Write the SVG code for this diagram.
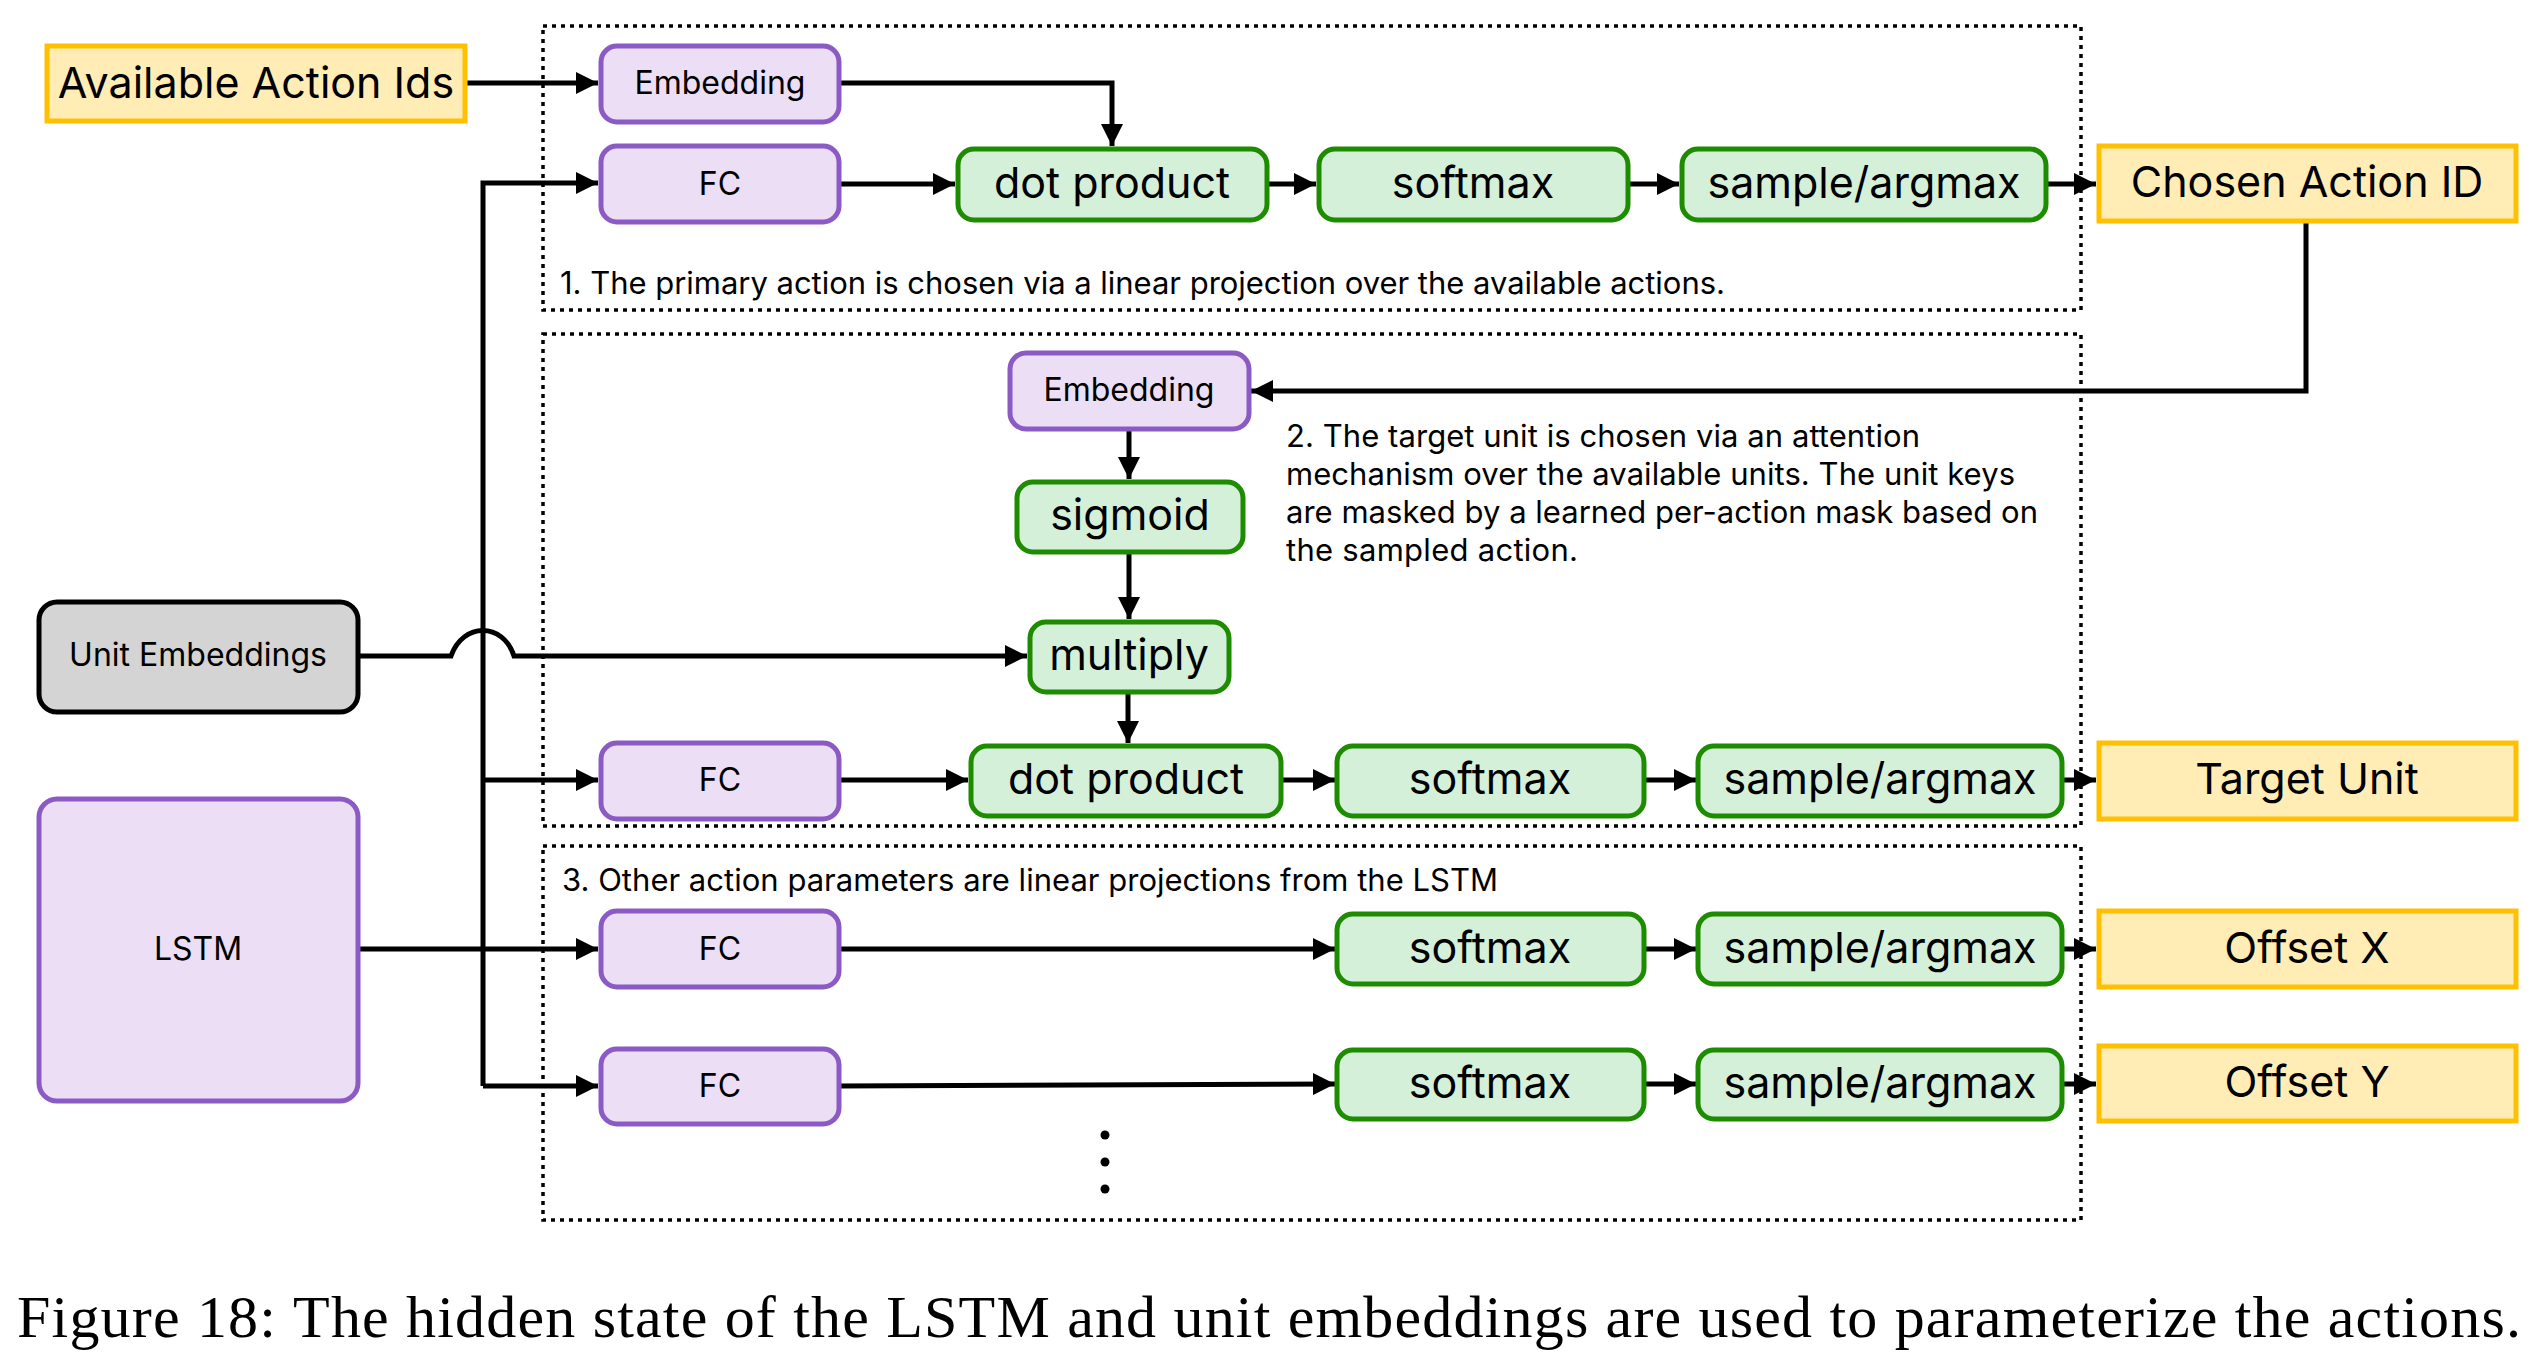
<svg xmlns="http://www.w3.org/2000/svg" width="2544" height="1366" viewBox="0 0 2544 1366">
<style>
.purple{fill:#ebdef5;stroke:#8c5ac4;stroke-width:5}
.green{fill:#d5f0d8;stroke:#1e8c00;stroke-width:5}
.yellow{fill:#ffedb5;stroke:#ffc000;stroke-width:5}
.grey{fill:#d4d4d4;stroke:#000;stroke-width:5}
.group{fill:none;stroke:#000;stroke-width:3.5;stroke-dasharray:4 5}
.big{font-family:Inter,"Open Sans","Liberation Sans",sans-serif;font-size:43px;fill:#000;text-anchor:middle}
.small{font-family:Inter,"Open Sans","Liberation Sans",sans-serif;font-size:32px;fill:#000;text-anchor:middle}
.note{font-family:Inter,"Open Sans","Liberation Sans",sans-serif;font-size:31px;fill:#000}
.cap{font-family:"Liberation Serif","DejaVu Serif",serif;font-size:60px;fill:#000}
.conn path{fill:none;stroke:#000;stroke-width:5}
</style>
<defs>
<marker id="ah" markerUnits="userSpaceOnUse" markerWidth="24" markerHeight="24" refX="22" refY="11" orient="auto">
<path d="M0,0 L22,11 L0,22 z" fill="#000"/>
</marker>
</defs>

<g id="groups">
<rect class="group" x="543" y="26" width="1538" height="284"/>
<rect class="group" x="543" y="334" width="1538" height="492"/>
<rect class="group" x="543" y="846" width="1538" height="374"/>
</g>

<g id="notes">
<text class="note" x="560" y="294" textLength="1165">1. The primary action is chosen via a linear projection over the available actions.</text>
<text class="note" x="1286" y="447" textLength="634">2. The target unit is chosen via an attention</text>
<text class="note" x="1286" y="485" textLength="729">mechanism over the available units. The unit keys</text>
<text class="note" x="1286" y="523" textLength="752">are masked by a learned per-action mask based on</text>
<text class="note" x="1286" y="561" textLength="292">the sampled action.</text>
<text class="note" x="562" y="891" textLength="936">3. Other action parameters are linear projections from the LSTM</text>
</g>

<g class="conn" id="connectors">
<path d="M466,83 H598" marker-end="url(#ah)"/>
<path d="M839,83 H1112 V146" marker-end="url(#ah)"/>
<path d="M483,1086 V183 H598" marker-end="url(#ah)"/>
<path d="M483,780 H598" marker-end="url(#ah)"/>
<path d="M483,1086 H598" marker-end="url(#ah)"/>
<path d="M358,949 H598" marker-end="url(#ah)"/>
<path d="M839,184 H955" marker-end="url(#ah)"/>
<path d="M1267,184 H1316" marker-end="url(#ah)"/>
<path d="M1628,184 H1679" marker-end="url(#ah)"/>
<path d="M2046,184 H2096" marker-end="url(#ah)"/>
<path d="M2306,223 V391 H1251" marker-end="url(#ah)"/>
<path d="M1129,429 V479" marker-end="url(#ah)"/>
<path d="M1129,552 V619" marker-end="url(#ah)"/>
<path d="M358,656 H451 C463,622 503,622 514,656 H1027" marker-end="url(#ah)"/>
<path d="M1128,692 V743" marker-end="url(#ah)"/>
<path d="M839,780 H968" marker-end="url(#ah)"/>
<path d="M1281,780 H1335" marker-end="url(#ah)"/>
<path d="M1644,780 H1696" marker-end="url(#ah)"/>
<path d="M2062,780 H2096" marker-end="url(#ah)"/>
<path d="M839,949 H1335" marker-end="url(#ah)"/>
<path d="M1644,949 H1696" marker-end="url(#ah)"/>
<path d="M2062,949 H2096" marker-end="url(#ah)"/>
<path d="M839,1086 L1335,1084" marker-end="url(#ah)"/>
<path d="M1644,1084 H1696" marker-end="url(#ah)"/>
<path d="M2062,1084 H2096" marker-end="url(#ah)"/>
</g>

<g id="available_action_ids">
<rect class="yellow" x="47" y="46" width="418" height="75"/>
<text class="big" x="256" y="98">Available Action Ids</text>
</g>
<g id="embedding1">
<rect class="purple" x="601" y="46" width="238" height="76" rx="16"/>
<text class="small" x="720" y="94">Embedding</text>
</g>
<g id="fc1">
<rect class="purple" x="601" y="146" width="238" height="76" rx="16"/>
<text class="small" x="720" y="195">FC</text>
</g>
<g id="dot_product1">
<rect class="green" x="958" y="149" width="309" height="71" rx="16"/>
<text class="big" x="1112" y="198">dot product</text>
</g>
<g id="softmax1">
<rect class="green" x="1319" y="149" width="309" height="71" rx="16"/>
<text class="big" x="1473" y="198">softmax</text>
</g>
<g id="sample1">
<rect class="green" x="1682" y="149" width="364" height="71" rx="16"/>
<text class="big" x="1864" y="198">sample/argmax</text>
</g>
<g id="chosen_action_id">
<rect class="yellow" x="2099" y="146" width="417" height="75"/>
<text class="big" x="2307" y="197">Chosen Action ID</text>
</g>

<g id="embedding2">
<rect class="purple" x="1010" y="353" width="239" height="76" rx="16"/>
<text class="small" x="1129" y="401">Embedding</text>
</g>
<g id="sigmoid">
<rect class="green" x="1017" y="482" width="226" height="70" rx="16"/>
<text class="big" x="1130" y="530">sigmoid</text>
</g>
<g id="multiply">
<rect class="green" x="1030" y="622" width="199" height="70" rx="16"/>
<text class="big" x="1129" y="670">multiply</text>
</g>
<g id="unit_embeddings">
<rect class="grey" x="39" y="602" width="319" height="110" rx="18"/>
<text class="small" x="198" y="666">Unit Embeddings</text>
</g>
<g id="fc2">
<rect class="purple" x="601" y="743" width="238" height="76" rx="16"/>
<text class="small" x="720" y="791">FC</text>
</g>
<g id="dot_product2">
<rect class="green" x="971" y="746" width="310" height="70" rx="16"/>
<text class="big" x="1126" y="794">dot product</text>
</g>
<g id="softmax2">
<rect class="green" x="1337" y="746" width="307" height="70" rx="16"/>
<text class="big" x="1490" y="794">softmax</text>
</g>
<g id="sample2">
<rect class="green" x="1698" y="746" width="364" height="70" rx="16"/>
<text class="big" x="1880" y="794">sample/argmax</text>
</g>
<g id="target_unit">
<rect class="yellow" x="2099" y="743" width="417" height="76"/>
<text class="big" x="2307" y="794">Target Unit</text>
</g>

<g id="lstm">
<rect class="purple" x="39" y="799" width="319" height="302" rx="18"/>
<text class="small" x="198" y="960">LSTM</text>
</g>
<g id="fc3">
<rect class="purple" x="601" y="911" width="238" height="76" rx="16"/>
<text class="small" x="720" y="960">FC</text>
</g>
<g id="softmax3">
<rect class="green" x="1337" y="914" width="307" height="70" rx="16"/>
<text class="big" x="1490" y="963">softmax</text>
</g>
<g id="sample3">
<rect class="green" x="1698" y="914" width="364" height="70" rx="16"/>
<text class="big" x="1880" y="963">sample/argmax</text>
</g>
<g id="offset_x">
<rect class="yellow" x="2099" y="911" width="417" height="76"/>
<text class="big" x="2307" y="963">Offset X</text>
</g>
<g id="fc4">
<rect class="purple" x="601" y="1049" width="238" height="75" rx="16"/>
<text class="small" x="720" y="1097">FC</text>
</g>
<g id="softmax4">
<rect class="green" x="1337" y="1050" width="307" height="69" rx="16"/>
<text class="big" x="1490" y="1098">softmax</text>
</g>
<g id="sample4">
<rect class="green" x="1698" y="1050" width="364" height="69" rx="16"/>
<text class="big" x="1880" y="1098">sample/argmax</text>
</g>
<g id="offset_y">
<rect class="yellow" x="2099" y="1046" width="417" height="75"/>
<text class="big" x="2307" y="1097">Offset Y</text>
</g>

<g id="ellipsis">
<circle cx="1105" cy="1135" r="4.5"/>
<circle cx="1105" cy="1162" r="4.5"/>
<circle cx="1105" cy="1189" r="4.5"/>
</g>

<text class="cap" x="17" y="1337" textLength="2504">Figure 18:<tspan dx="16">The hidden state of the LSTM and unit embeddings are used to parameterize the actions.</tspan></text>
</svg>
